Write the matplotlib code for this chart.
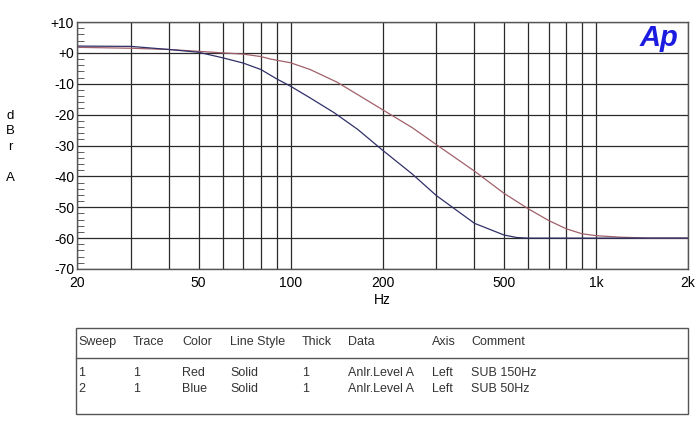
import numpy as np
import matplotlib
matplotlib.use("Agg")
import matplotlib.pyplot as plt
from matplotlib.ticker import FixedLocator, NullFormatter

plt.rcParams['font.family'] = ['Liberation Sans', 'DejaVu Sans']

# SUB 150Hz (red trace)
red_f = [20, 30, 40, 50, 60, 70, 80, 86, 100, 116, 142, 169, 200, 250, 300,
         400, 500, 600, 700, 800, 900, 1000, 1200, 1500, 2000]
red_db = [1.8, 1.5, 1.1, 0.5, 0.0, -0.4, -1.2, -2.0, -3.2, -5.4, -9.5, -14.0,
          -18.4, -24.2, -29.7, -38.3, -45.5, -50.5, -54.3, -57.0, -58.6, -59.2,
          -59.7, -60.0, -60.0]

# SUB 50Hz (blue trace)
blue_f = [20, 30, 40, 50, 60, 70, 80, 90, 100, 116, 139, 166, 200, 250, 300,
          400, 500, 550, 600, 800, 1000, 2000]
blue_db = [2.2, 2.1, 1.1, 0.2, -1.6, -3.3, -5.4, -8.4, -10.8, -14.6, -19.4, -24.8,
           -31.5, -39.2, -46.2, -55.2, -59.0, -59.8, -60.0, -60.0, -60.0, -60.0]

x_grid = [20, 30, 40, 50, 60, 70, 80, 90, 100, 200, 300, 400, 500, 600, 700,
          800, 900, 1000, 2000]
x_ticks = [20, 50, 100, 200, 500, 1000, 2000]
x_labels = ["20", "50", "100", "200", "500", "1k", "2k"]
y_ticks = list(range(-70, 11, 10))
y_labels = ["-70", "-60", "-50", "-40", "-30", "-20", "-10", "+0", "+10"]

headers = ["Sweep", "Trace", "Color", "Line Style", "Thick", "Data", "Axis", "Comment"]
rows = [["1", "1", "Red", "Solid", "1", "Anlr.Level A", "Left", "SUB 150Hz"],
        ["2", "1", "Blue", "Solid", "1", "Anlr.Level A", "Left", "SUB 50Hz"]]

W, H = 700, 424
fig = plt.figure(figsize=(7, 4.24), dpi=100)
ax = fig.add_axes([77 / W, 1 - 269 / H, (688 - 77) / W, (269 - 22) / H])

ax.plot(red_f, red_db, color="#a0606a", lw=0.9)
ax.plot(blue_f, blue_db, color="#303068", lw=0.9)

ax.set_xscale("log")
ax.set_xlim(20, 2000)
ax.set_ylim(-70, 10)

ax.xaxis.set_major_locator(FixedLocator(x_ticks))
ax.xaxis.set_minor_locator(FixedLocator([]))
ax.set_xticklabels(x_labels)
ax.xaxis.set_minor_formatter(NullFormatter())
for f in x_grid:
    ax.axvline(f, color="#2a2a2a", lw=0.9, zorder=0)
for v in y_ticks:
    ax.axhline(v, color="#2a2a2a", lw=0.9, zorder=0)

ax.set_yticks(y_ticks)
ax.set_yticklabels(y_labels)
ax.yaxis.set_minor_locator(FixedLocator(np.arange(-70, 11, 2)))
ax.tick_params(axis="x", length=0, labelsize=10, pad=5)
ax.tick_params(axis="y", which="major", length=0, labelsize=10, pad=2)
ax.tick_params(axis="y", which="minor", direction="in", length=5, color="#444444")

for s in ax.spines.values():
    s.set_color("#555555")
    s.set_linewidth(1.0)

ax.set_xlabel("Hz", fontsize=10, labelpad=2)
fig.text(10 / W, 1 - 147 / H, "d\nB\nr\n\nA", fontsize=9.5, ha="center", va="center",
         linespacing=1.4)

ax.text(0.985, 0.935, "Ap", transform=ax.transAxes, fontsize=21, fontweight="bold",
        fontstyle="italic", color="#1c1ce0", ha="right", va="center")

# legend table drawn in pixel space
tb = fig.add_axes([0, 0, 1, 1])
tb.set_xlim(0, W)
tb.set_ylim(H, 0)
tb.axis("off")
tb.add_patch(plt.Rectangle((76, 328), 688 - 76, 414 - 328, fill=False,
                           edgecolor="#555555", lw=1.0))
tb.plot([76, 688], [358, 358], color="#555555", lw=1.0)
col_x = [78, 133, 182, 230, 302, 348, 432, 471]
for cx, h in zip(col_x, headers):
    tb.text(cx, 342, h, fontsize=9, va="center", ha="left", color="#333333")
for ry, row in zip([373, 389], rows):
    for cx, v in zip(col_x, row):
        tb.text(cx, ry, v, fontsize=9, va="center", ha="left", color="#333333")

fig.savefig("out.png", dpi=100)
